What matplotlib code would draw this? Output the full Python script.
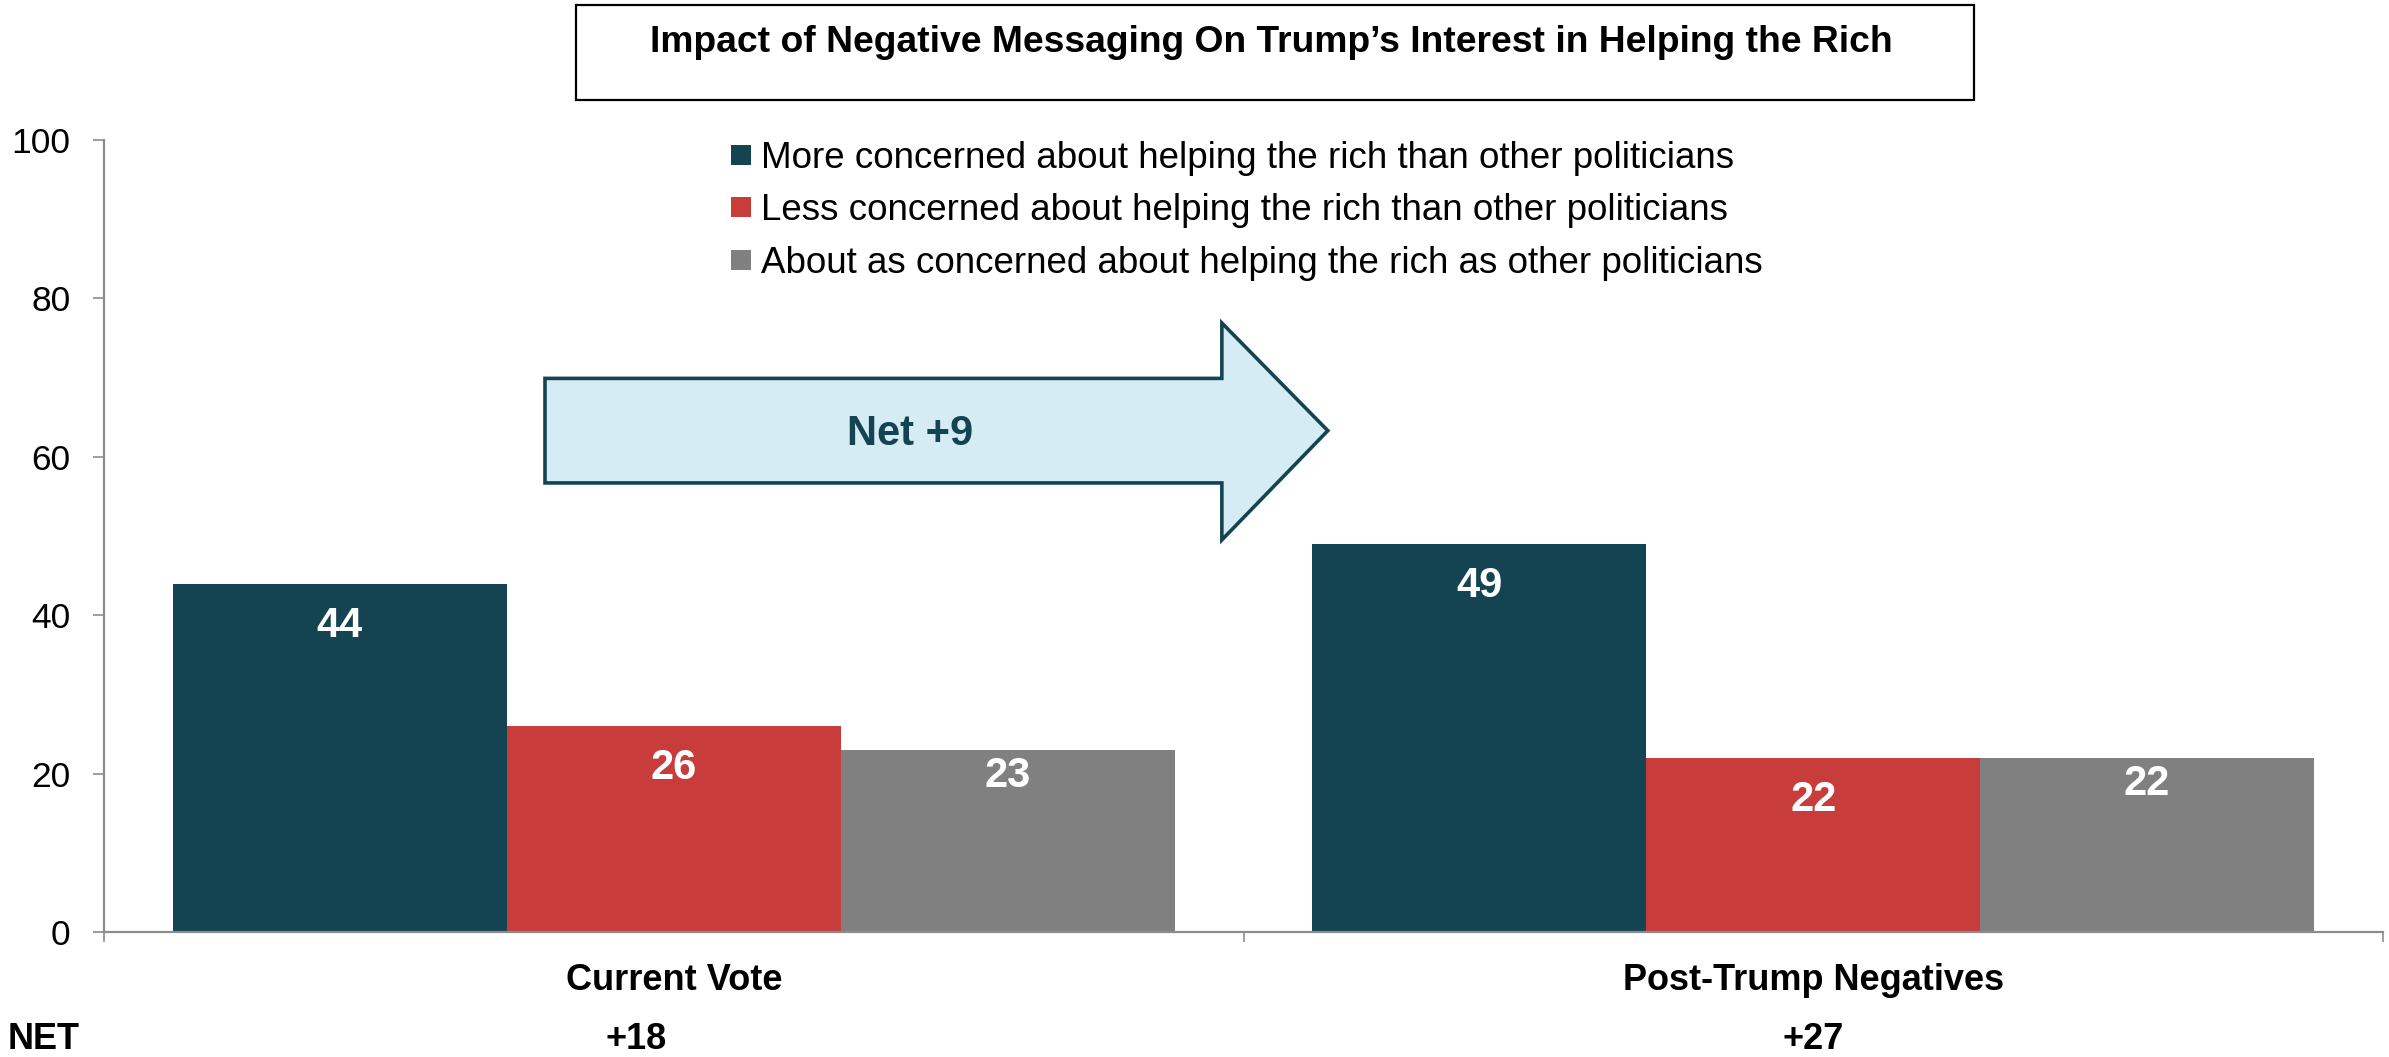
import matplotlib
matplotlib.use("Agg")
import matplotlib.pyplot as plt
import matplotlib.transforms as mtransforms
from matplotlib.lines import Line2D
from matplotlib.patches import Polygon, Rectangle
import numpy as np

plt.rcParams['font.family'] = ['Liberation Sans', 'DejaVu Sans']

title = "Impact of Negative Messaging On Trump\u2019s Interest in Helping the Rich"
categories = ["Current Vote", "Post-Trump Negatives"]
series_names = [
    "More concerned about helping the rich than other politicians",
    "Less concerned about helping the rich than other politicians",
    "About as concerned about helping the rich as other politicians",
]
more_concerned = [44, 49]
less_concerned = [26, 22]
as_concerned = [23, 22]
series_values = [more_concerned, less_concerned, as_concerned]
y_ticks = [0, 20, 40, 60, 80, 100]

colors = ["#144452", "#C83C3C", "#808080"]
label_drop = [42, 42, 26]  # px below bar top for the value labels
axis_gray = "#8c8c8c"
dark = "#144452"

net = [m - l for m, l in zip(more_concerned, less_concerned)]
shift = net[1] - net[0]

fig = plt.figure(figsize=(23.89, 10.57), dpi=100)
W, H = 2389, 1057
ax = fig.add_axes([104 / W, 1 - 932 / H, (2383 - 104) / W, (932 - 140) / H])

x = np.arange(len(categories))
width = 0.293
for i, (vals, color) in enumerate(zip(series_values, colors)):
    bars = ax.bar(x + (i - 1) * width, vals, width, color=color, zorder=2)
    for rect, v in zip(bars, vals):
        ax.annotate(str(v), (rect.get_x() + rect.get_width() / 2, v),
                    xytext=(0, -label_drop[i]), textcoords="offset pixels",
                    ha="center", va="center", color="white",
                    fontsize=30, fontweight="bold", zorder=4)

ax.set_xlim(-0.5, 1.5)
ax.set_ylim(0, 100)
ax.set_yticks(y_ticks)
ax.tick_params(axis="y", labelsize=25.5, length=8, width=1.2, color=axis_gray, pad=16)
ax.set_xticks(x)
ax.set_xticklabels(categories, fontsize=26, fontweight="bold")
ax.set_xticks([-0.5, 0.5, 1.5], minor=True)
ax.tick_params(axis="x", which="major", length=0, pad=22)
ax.tick_params(axis="x", which="minor", length=7, width=1.2, color=axis_gray)
for side in ["top", "right"]:
    ax.spines[side].set_visible(False)
for side in ["left", "bottom"]:
    ax.spines[side].set_color(axis_gray)
    ax.spines[side].set_linewidth(1.6)

# shift arrow between the two groups
arrow_pts = [(-0.113, 56.7), (-0.113, 69.9), (0.481, 69.9), (0.481, 76.9),
             (0.574, 63.3), (0.481, 49.5), (0.481, 56.7)]
ax.add_patch(Polygon(arrow_pts, closed=True, facecolor="#D5ECF5", edgecolor=dark,
                     linewidth=2.6, zorder=3, clip_on=False))
ax.text(0.207, 62.9, f"Net {shift:+d}", ha="center", va="center",
        fontsize=30, fontweight="bold", color=dark, zorder=4)

# legend
handles = [Line2D([], [], marker="s", linestyle="none", markersize=13.7,
                  markeredgewidth=0, color=c) for c in colors]
fig.legend(handles, series_names, loc="upper left",
           bbox_to_anchor=(731 / W, 1 - 141 / H), frameon=False,
           fontsize=26.5, handlelength=0.55, handletextpad=0.27,
           labelspacing=0.47, borderpad=0, borderaxespad=0)

# title box
fig.patches.append(Rectangle((576 / W, 1 - 100 / H), (1974 - 576) / W, 95 / H,
                             transform=fig.transFigure, fill=False,
                             edgecolor="black", linewidth=1.6))
fig.text(1271 / W, 1 - 52 / H, title, ha="center", va="baseline",
         fontsize=26.8, fontweight="bold")

# NET row under the category labels
trans = mtransforms.blended_transform_factory(ax.transData, fig.transFigure)
fig.text(8 / W, 1 - 1049 / H, "NET", ha="left", va="baseline",
         fontsize=26, fontweight="bold")
net_dx = [-0.033, 0.0]
for xi, n, dx in zip(x, net, net_dx):
    ax.text(xi + dx, 1 - 1049 / H, f"{n:+d}", transform=trans,
            ha="center", va="baseline", fontsize=26, fontweight="bold")

fig.savefig("out.png", dpi=100)
